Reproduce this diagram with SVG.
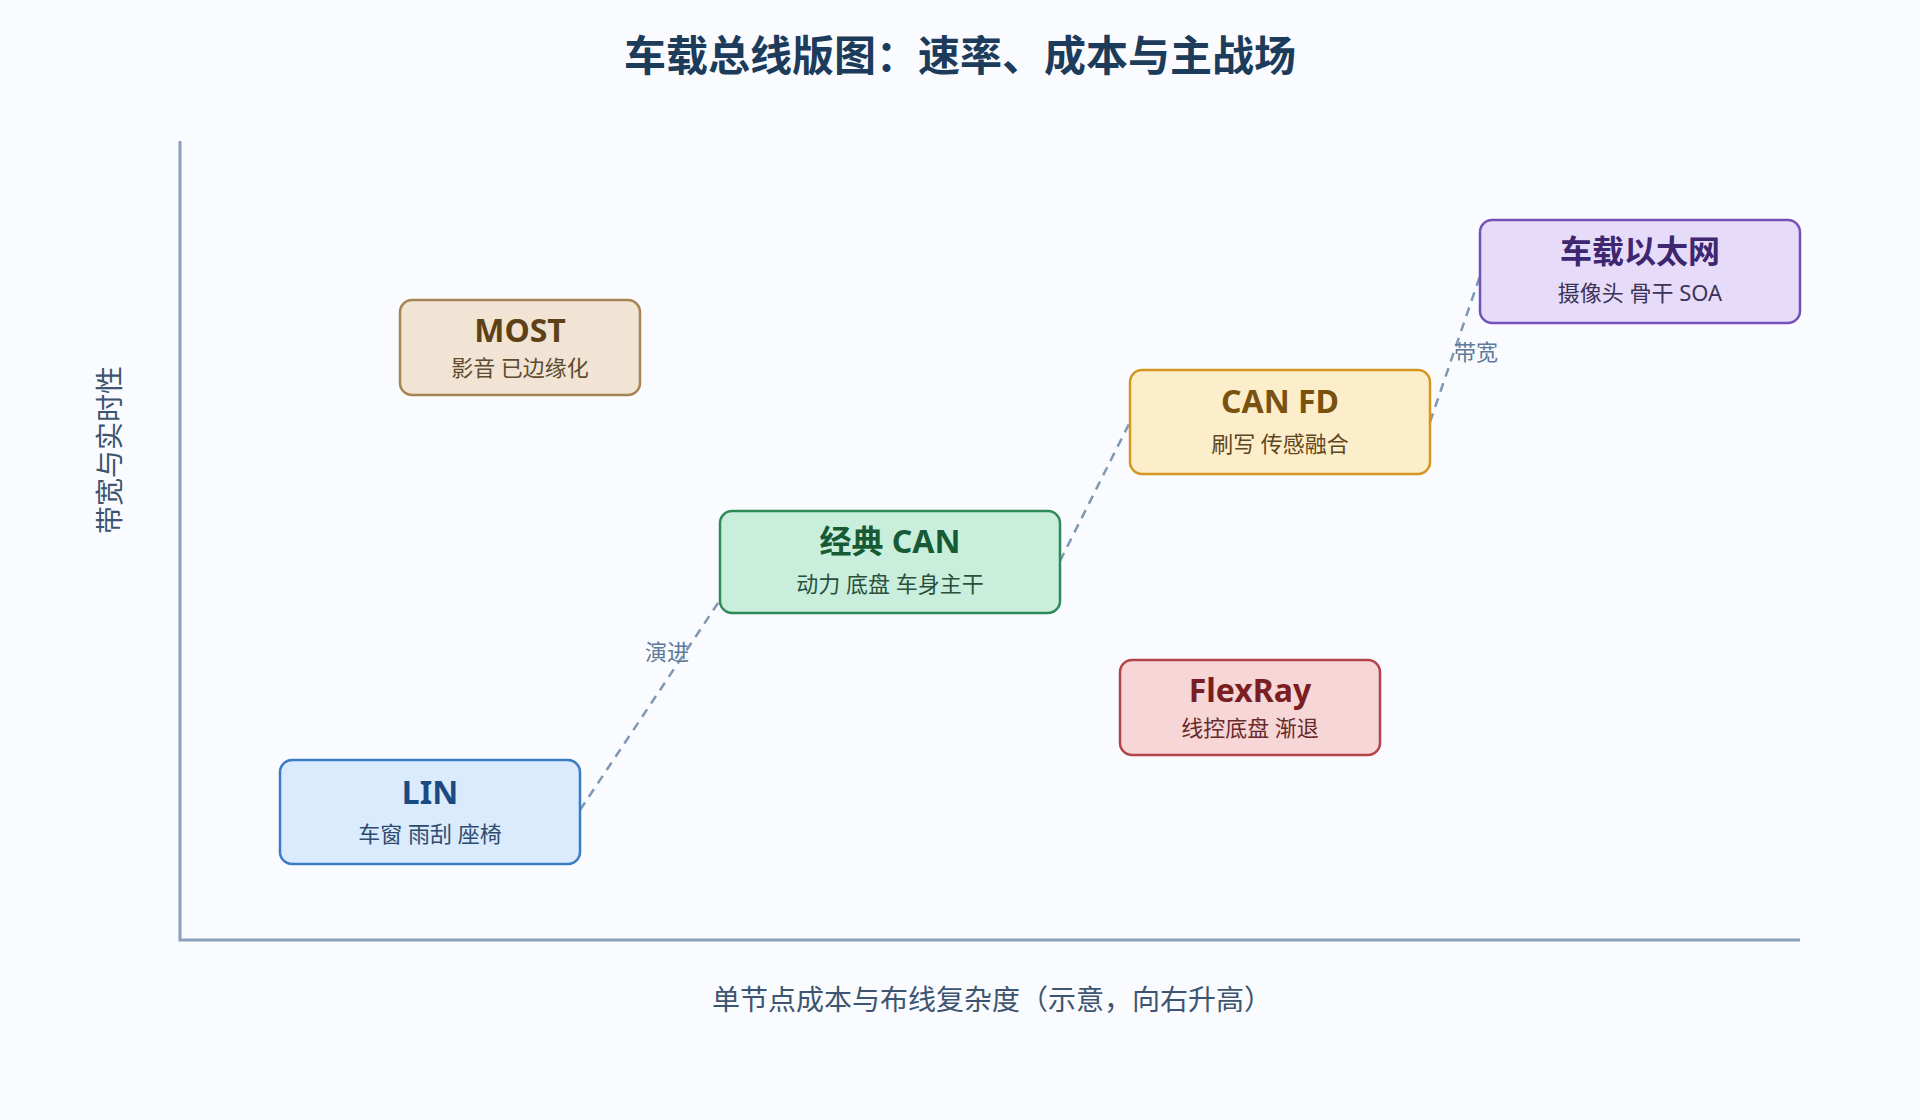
<svg xmlns="http://www.w3.org/2000/svg" width="1920" height="1120" viewBox="0 0 1920 1120">
<style>
text{font-family:"Noto Sans","Noto Sans CJK SC",sans-serif;text-anchor:middle}
.t{font-size:32px;font-weight:bold}
.s{font-size:22px}
.ax{fill:none;stroke:#8aa0bb;stroke-width:3}
.c{fill:none;stroke:#7f98b3;stroke-width:2.5;stroke-dasharray:9 7}
.lb{font-size:22px;fill:#5f7a98}
rect{stroke-width:2.5}
</style>
<rect width="1920" height="1120" fill="#f9fbfe" style="stroke:none"/>
<text x="960" y="71" style="font-size:42px;font-weight:bold" fill="#1d3b5a">车载总线版图：速率、成本与主战场</text>
<g id="axes">
<path class="ax" d="M180 141 V940 H1800"/>
<text x="0" y="0" transform="translate(120,450) rotate(-90)" style="font-size:28px" fill="#3d5570">带宽与实时性</text>
<text x="992" y="1010" style="font-size:28px" fill="#3d5570">单节点成本与布线复杂度（示意，向右升高）</text>
</g>
<g id="connectors">
<path class="c" d="M580 810 L720 600"/>
<path class="c" d="M1060 561 L1130 422"/>
<path class="c" d="M1430 422 L1480 276"/>
<text class="lb" x="667" y="660">演进</text>
<text class="lb" x="1476" y="360">带宽</text>
</g>
<g id="most"><rect x="400" y="300" width="240" height="95" rx="12" fill="#f1e4d4" stroke="#a58353"/>
<text class="t" x="520" y="342" fill="#5e4116">MOST</text><text class="s" x="520" y="376" fill="#5e4b30">影音 已边缘化</text></g>
<g id="lin"><rect x="280" y="760" width="300" height="104" rx="12" fill="#d9ebfd" stroke="#3a7bc4"/>
<text class="t" x="430" y="804" fill="#1b4a80">LIN</text><text class="s" x="430" y="842" fill="#2f4c6e">车窗 雨刮 座椅</text></g>
<g id="can"><rect x="720" y="511" width="340" height="102" rx="12" fill="#c9efdc" stroke="#2e8a58"/>
<text class="t" x="890" y="553" fill="#175a35">经典 CAN</text><text class="s" x="890" y="592" fill="#2a4f3c">动力 底盘 车身主干</text></g>
<g id="canfd"><rect x="1130" y="370" width="300" height="104" rx="12" fill="#fdeecb" stroke="#d4961f"/>
<text class="t" x="1280" y="413" fill="#7a5210">CAN FD</text><text class="s" x="1280" y="452" fill="#5e4720">刷写 传感融合</text></g>
<g id="eth"><rect x="1480" y="220" width="320" height="103" rx="12" fill="#e6dcf9" stroke="#7452b8"/>
<text class="t" x="1640" y="263" fill="#3e2670">车载以太网</text><text class="s" x="1640" y="301" fill="#3d3358">摄像头 骨干 SOA</text></g>
<g id="flexray"><rect x="1120" y="660" width="260" height="95" rx="12" fill="#f6d6d6" stroke="#b3454a"/>
<text class="t" x="1250" y="702" fill="#7a1e22">FlexRay</text><text class="s" x="1250" y="736" fill="#6a2a2c">线控底盘 渐退</text></g>
</svg>
